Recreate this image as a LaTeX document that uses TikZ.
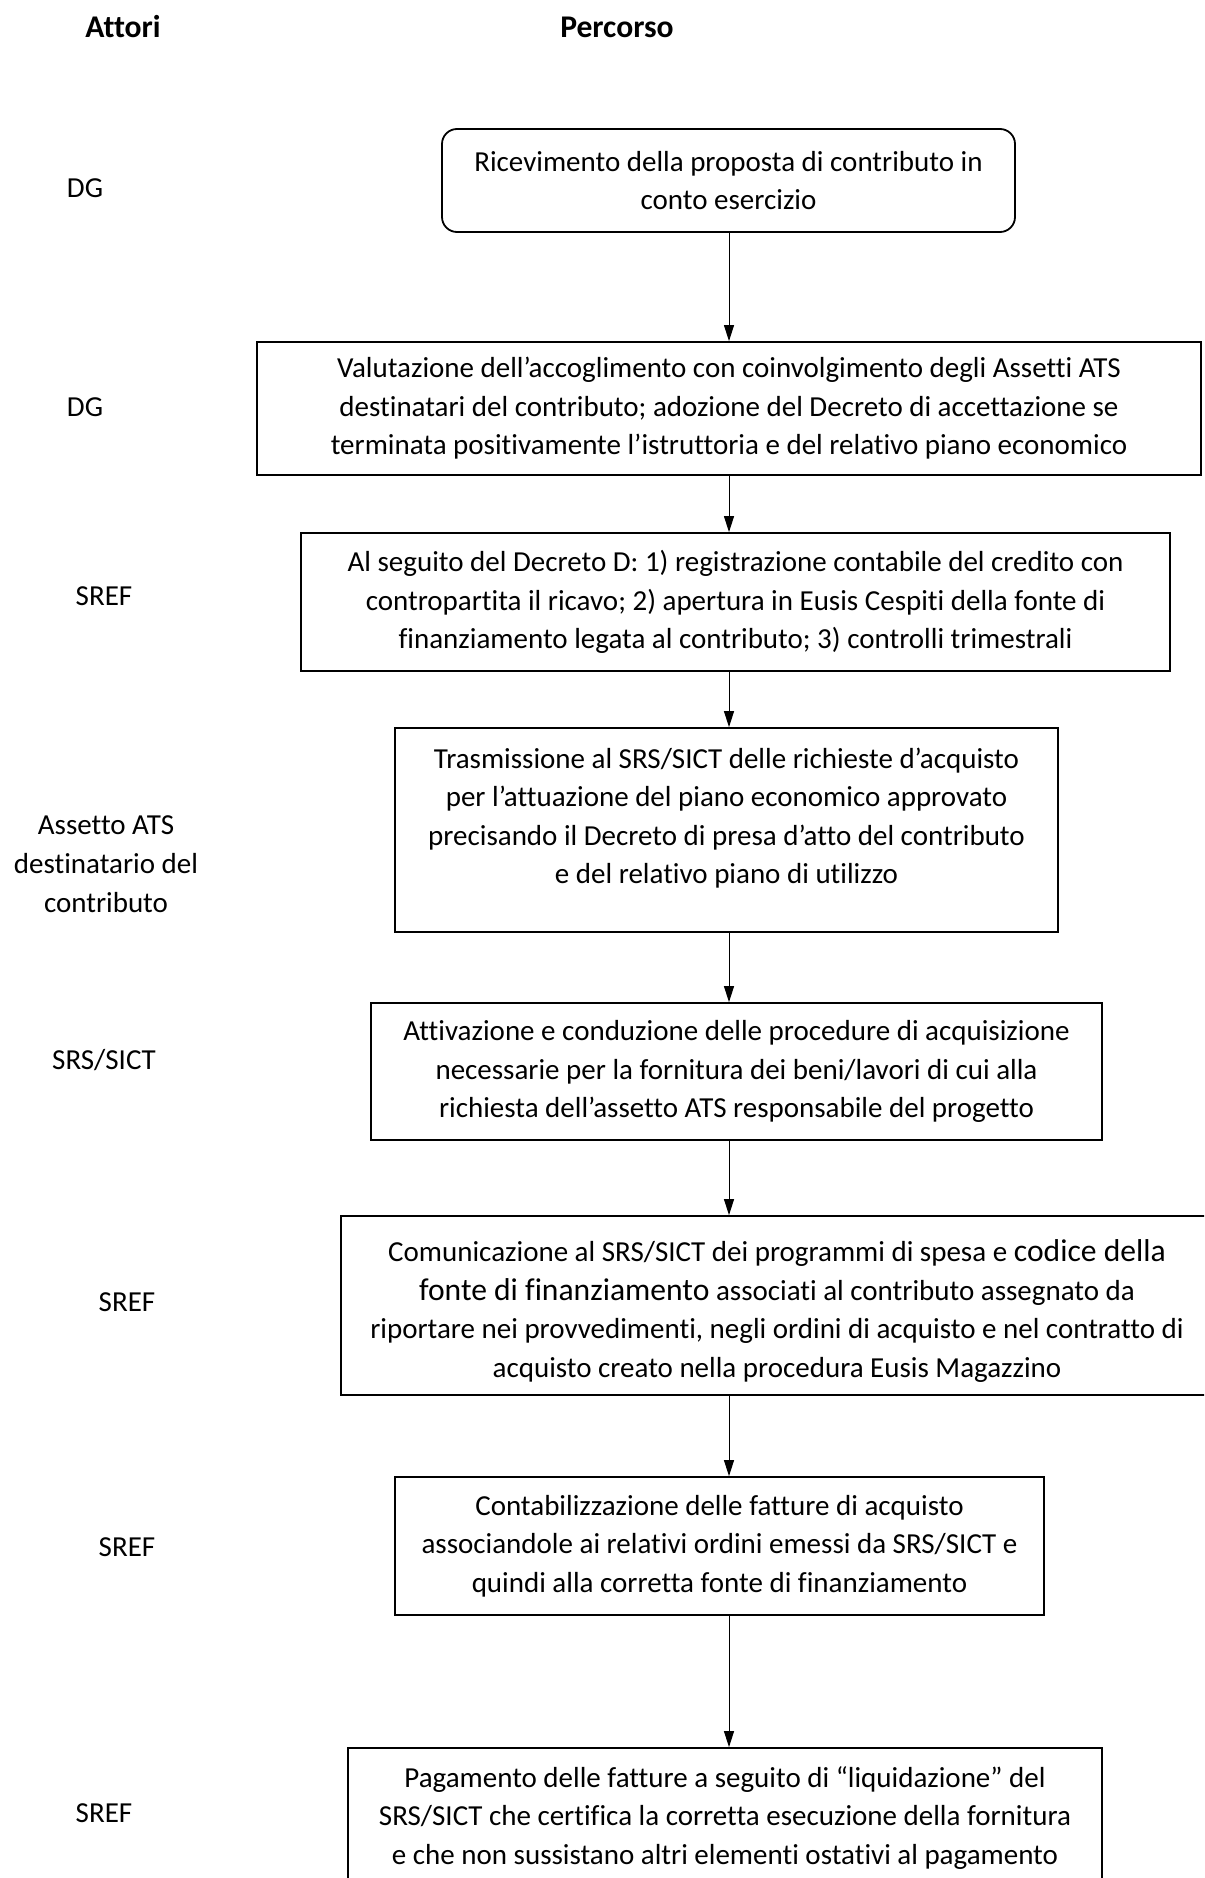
\documentclass[tikz,border=0pt]{standalone}
\usepackage{fontspec}
\setmainfont{Carlito}[Ligatures=NoCommon]
\usetikzlibrary{arrows.meta}
\begin{document}
\begin{tikzpicture}[x=1pt,y=-1pt,
  box/.style={draw, line width=1.8pt, align=center, inner sep=0pt, font=\fontsize{29}{38.5}\selectfont},
  actor/.style={align=center, font=\fontsize{29}{39}\selectfont},
  head/.style={font=\fontsize{31.6}{36}\selectfont\bfseries},
  arr/.style={line width=1pt, -{Triangle[length=16pt,width=10pt]}},
  txt/.style={align=center, inner sep=0pt, font=\fontsize{29}{38.5}\selectfont}
]
\clip (0,0) rectangle (1204,1878);
\fill[white] (0,0) rectangle (1204,1878);
\coordinate (ax) at (729,0);

% headers
\node[head] (hA) at (123,27) {Attori};
\node[head] (hP) at (617,27) {Percorso};

% actors
\node[actor] (a1) at (85,188) {DG};
\node[actor] (a2) at (85,407) {DG};
\node[actor] (a3) at (104,596) {SREF};
\node[actor] (a4) at (106,864) {Assetto ATS\\destinatario del\\contributo};
\node[actor] (a5) at (104,1060) {SRS/SICT};
\node[actor] (a6) at (127,1302) {SREF};
\node[actor] (a7) at (127,1547) {SREF};
\node[actor] (a8) at (104,1813) {SREF};

% boxes
\node[box, rounded corners=15pt, minimum width=573pt, minimum height=103pt] (b1) at (728.5,180.5)
  {Ricevimento della proposta di contributo in\\conto esercizio};
\node[box, minimum width=944pt, minimum height=133pt] (b2) at (729,408.5)
  {Valutazione dell’accoglimento con coinvolgimento degli Assetti ATS\\destinatari del contributo; adozione del Decreto di accettazione  se\\terminata positivamente l’istruttoria e del relativo piano economico};
\node[box, minimum width=869pt, minimum height=138pt] (b3) at (735.5,602)
  {Al seguito del Decreto D: 1) registrazione contabile del credito con\\contropartita il ricavo; 2) apertura in Eusis Cespiti della fonte di\\finanziamento legata al contributo; 3) controlli trimestrali};
\node[box, minimum width=663pt, minimum height=204pt] (b4) at (726.5,830) {};
\node[txt] (t4) at (726.5,818)
  {Trasmissione al SRS/SICT delle richieste d’acquisto\\per l’attuazione del piano economico approvato\\precisando il Decreto di presa d’atto del contributo\\e del relativo piano di utilizzo};
\node[box, minimum width=731pt, minimum height=137pt] (b5) at (736.5,1071.5)
  {Attivazione e conduzione delle procedure di acquisizione\\necessarie per la fornitura dei beni/lavori di cui alla\\richiesta dell’assetto ATS responsabile del progetto};
\node[box, minimum width=866pt, minimum height=179pt] (b6) at (774,1305.5) {};
\node[txt] (t6) at (777,1311)
  {Comunicazione al SRS/SICT dei programmi di spesa  e {\fontsize{31.6}{38.5}\selectfont codice della}\\
   {\fontsize{31.6}{38.5}\selectfont fonte di finanziamento} associati al contributo assegnato da\\
   riportare nei provvedimenti, negli ordini di acquisto e nel contratto di\\
   acquisto creato nella procedura Eusis Magazzino};
\node[box, minimum width=649pt, minimum height=138pt] (b7) at (719.5,1546)
  {Contabilizzazione delle fatture di acquisto\\associandole ai relativi ordini emessi da SRS/SICT e\\quindi alla corretta fonte di finanziamento};
\node[box, minimum width=754pt, minimum height=140pt] (b8) at (725,1818)
  {Pagamento delle fatture a seguito di “liquidazione” del\\SRS/SICT che certifica la corretta esecuzione della fornitura\\e che non sussistano altri elementi ostativi al pagamento};

% connectors
\draw[arr] (b1.south -| ax) -- (b2.north -| ax);
\draw[arr] (b2.south -| ax) -- (b3.north -| ax);
\draw[arr] (b3.south -| ax) -- (b4.north -| ax);
\draw[arr] (b4.south -| ax) -- (b5.north -| ax);
\draw[arr] (b5.south -| ax) -- (b6.north -| ax);
\draw[arr] (b6.south -| ax) -- (b7.north -| ax);
\draw[arr] (b7.south -| ax) -- (b8.north -| ax);
\end{tikzpicture}
\end{document}
